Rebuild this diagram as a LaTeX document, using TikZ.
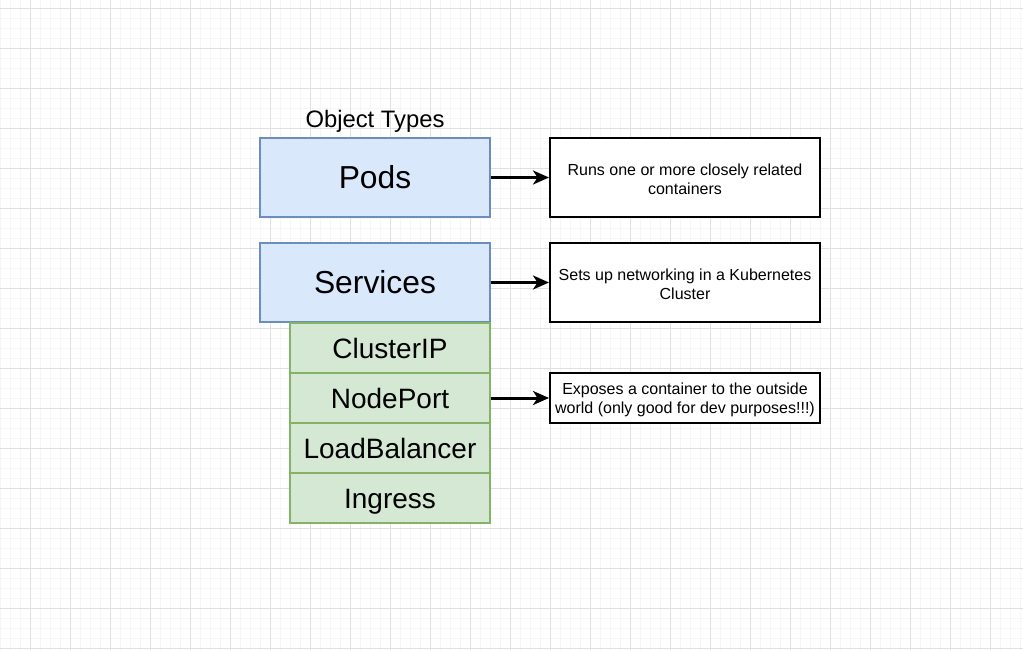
\documentclass[tikz,border=0pt]{standalone}
\usepackage{fontspec}
\setmainfont{Liberation Sans}
\usetikzlibrary{arrows.meta}
\definecolor{bluefill}{HTML}{DAE8FC}
\definecolor{bluestroke}{HTML}{6C8EBF}
\definecolor{greenfill}{HTML}{D5E8D4}
\definecolor{greenstroke}{HTML}{82B366}
\definecolor{gridminor}{HTML}{F6F6F6}
\definecolor{gridmajor}{HTML}{E0E0E0}
\begin{document}
\begin{tikzpicture}[x=1pt,y=-1pt,
  minorline/.style={draw=gridminor,line width=1pt},
  majorline/.style={draw=gridmajor,line width=1pt},
  typebox/.style={draw=bluestroke,fill=bluefill,line width=1.6pt,minimum width=230pt,minimum height=79pt,inner sep=0pt,text height=22.8pt,text depth=0pt,font=\fontsize{31.8}{36}\selectfont},
  subbox/.style={draw=greenstroke,fill=greenfill,line width=1.6pt,minimum width=200pt,minimum height=50pt,inner sep=0pt,text height=20pt,text depth=0pt,font=\fontsize{28}{32}\selectfont},
  descbox/.style={draw=black,fill=white,line width=2pt,minimum width=270pt,inner sep=0pt},
  descline/.style={inner sep=0pt,align=center,font=\fontsize{16}{18.8}\selectfont},
  link/.style={draw=black,line width=3pt,-{Stealth[length=16pt,width=14pt,inset=4.5pt]}}
]
\useasboundingbox (0,0) rectangle (1023,650);
\fill[white] (0,0) rectangle (1023,650);
\foreach \x in {0,10,...,1020} \draw[minorline] (\x+0.5,0) -- (\x+0.5,650);
\foreach \y in {8,18,...,648} \draw[minorline] (0,\y+0.5) -- (1023,\y+0.5);
\foreach \x in {30,70,...,1010} \draw[majorline] (\x+0.5,0) -- (\x+0.5,650);
\foreach \y in {8,48,...,648} \draw[majorline] (0,\y+0.5) -- (1023,\y+0.5);

\node[inner sep=0pt,text height=17pt,text depth=0pt,font=\fontsize{23.8}{27}\selectfont] (title) at (375,119) {Object Types};
\node[typebox] (pods) at (375,177.5) {Pods};
\node[typebox] (services) at (375,282.5) {Services};
\node[subbox] (clusterip) at (390,348) {ClusterIP};
\node[subbox] (nodeport) at (390,398) {NodePort};
\node[subbox] (lb) at (390,448) {LoadBalancer};
\node[subbox] (ingress) at (390,498) {Ingress};

\node[descbox,minimum height=79pt] (podsdesc) at (685,177.5) {};
\node[descbox,minimum height=79pt] (svcdesc) at (685,282.5) {};
\node[descbox,minimum height=50pt] (npdesc) at (685,398) {};
\node[descline] (podstext) at (685,179.5) {Runs one or more closely related\\containers};
\node[descline] (svctext) at (685,284.5) {Sets up networking in a Kubernetes\\Cluster};
\node[descline] (nptext) at (685,400) {Exposes a container to the outside\\world (only good for dev purposes!!!)};

\draw[link] (pods.east) -- (podsdesc.west);
\draw[link] (services.east) -- (svcdesc.west);
\draw[link] (nodeport.east) -- (npdesc.west);
\end{tikzpicture}
\end{document}
